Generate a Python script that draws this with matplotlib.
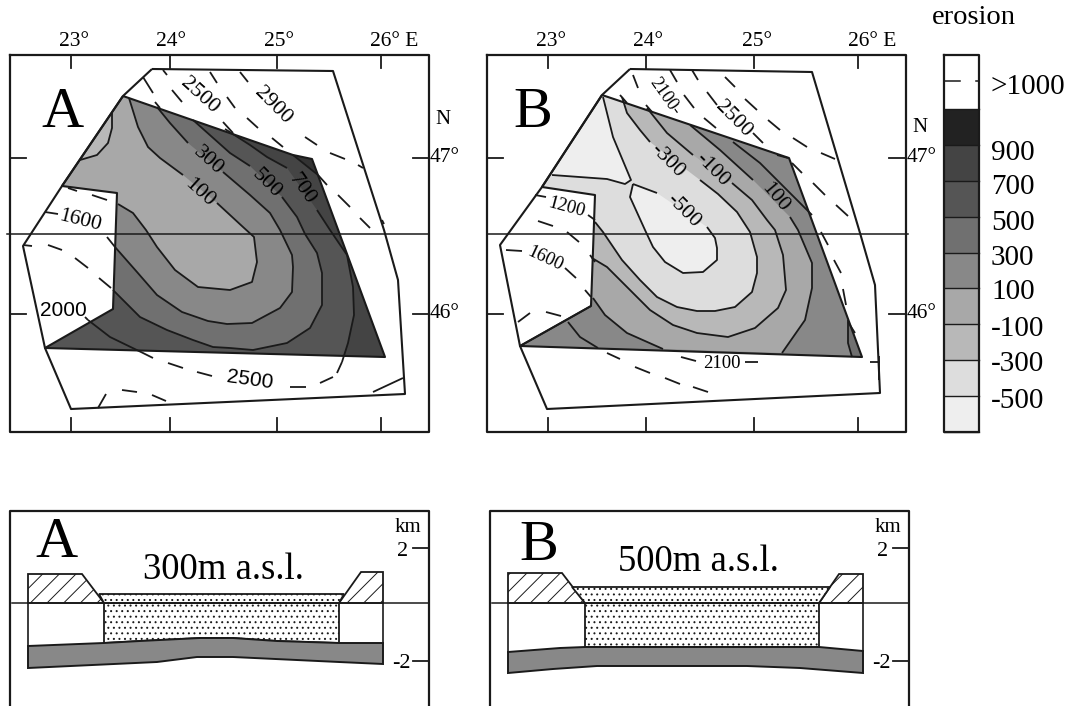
import numpy as np
import matplotlib
matplotlib.use("Agg")
import matplotlib.pyplot as plt
from matplotlib.patches import Polygon

plt.rcParams['font.family'] = ['Liberation Serif', 'DejaVu Sans']
plt.rcParams['hatch.linewidth'] = 0.7

# everything in image pixels, NA breaks a line
NA = (np.nan, np.nan)
INK = '#1a1a1a'

# erosion key, top to bottom
KEY_EDGES = [55, 109, 145, 181, 217, 253, 288, 324, 360, 396, 432]
KEY_GREYS = ['#ffffff', '#222222', '#444444', '#555555', '#707070',
             '#888888', '#a8a8a8', '#b8b8b8', '#dddddd', '#eeeeee']
KEY_LABELS = ['>1000', '900', '700', '500', '300', '100', '-100', '-300', '-500']
KEY_LABEL_Y = [87, 153, 187, 223, 258, 292, 329, 364, 401]

# ---- map A
A_OUTER = [(152, 69), (333, 71), (384, 230), (398, 280), (405, 394), (71, 409),
           (45, 348), (23, 246), (62, 186), (123, 96)]
A_SHADE = [(123, 96), (293, 155), (312, 159), (385, 357), (45, 348), (113, 309),
           (117, 193), (62, 186)]
A_100 = [(129, 98), (138, 127), (148, 147), (160, 158), (183, 175), NA, (217, 203),
         (243, 227), (254, 237), (257, 262), (252, 282), (230, 290), (198, 287),
         (175, 270), (157, 247), (146, 230), (133, 213), (118, 204)]
A_300 = [(157, 107), (170, 123), (188, 143), NA, (223, 172), (250, 195), (270, 213),
         (280, 230), (292, 255), (293, 267), (292, 292), (280, 308), (252, 323),
         (227, 324), (208, 321), (182, 312), (157, 295), (137, 272), (115, 247)]
A_500 = [(193, 120), (230, 153), (250, 166), NA, (282, 197), (297, 217), (305, 234),
         (317, 253), (322, 273), (322, 305), (310, 328), (287, 343), (253, 350),
         (230, 348), (213, 347), (193, 340), (167, 330), (140, 317), (125, 302), (113, 290)]
A_700 = [(225, 129), (250, 145), (267, 157), (287, 168), NA, (317, 210), (330, 230),
         (347, 255), (353, 287), (354, 315), (348, 343), (342, 362)]
A_900 = [(293, 155), (318, 175)]
A_LOBE = [(112, 112), (112, 128), (108, 143), (97, 155), (80, 160)]
A_WEDGE = [(88, 320), (110, 337), (143, 353), (153, 358)]
A_DASHES = [(143, 77), (153, 93), NA, (155, 102), (160, 108), NA, (163, 70), (167, 75), NA,
            (172, 90), (182, 102), NA, (210, 72), (217, 83), NA, (227, 97), (235, 108), NA,
            (223, 122), (233, 133), NA, (247, 118), (258, 128), NA, (272, 138), (283, 147), NA,
            (318, 175), (327, 185), NA, (338, 195), (350, 207), NA, (360, 218), (370, 228), NA,
            (240, 72), (248, 82), NA, (305, 137), (317, 145), NA, (330, 153), (345, 159), NA,
            (358, 165), (363, 168), NA, (382, 220), (384, 224), NA,
            (68, 188), (77, 191), NA, (92, 195), (107, 200), NA, (45, 212), (58, 214), NA,
            (107, 237), (115, 247), NA, (23, 245), (32, 246), NA, (48, 245), (62, 250), NA,
            (75, 258), (88, 268), NA, (99, 278), (111, 288), NA, (85, 317), (88, 320), NA,
            (168, 363), (183, 368), NA, (197, 372), (212, 376), NA, (290, 387), (306, 387), NA,
            (320, 383), (333, 377), NA, (337, 373), (342, 362), NA, (98, 408), (106, 394), NA,
            (122, 390), (137, 392), NA, (152, 395), (166, 401), NA, (373, 392), (403, 378)]
A_LABELS = [('2500', 200, 96, -42, 16), ('2900', 273, 106, -45, 16), ('300', 208, 161, -42, 16),
            ('100', 200, 193, -42, 16), ('500', 267, 184, -45, 16), ('700', 302, 189, -55, 16),
            ('1600', 80, 221, -14, 15.5)]
A_SANS_LABELS = [('2000', 63, 310, 0, 15), ('2500', 250, 380, -8, 15)]

# ---- map B
B_OUTER = [(630, 69), (812, 72), (860, 233), (875, 285), (880, 393), (547, 409),
           (520, 346), (500, 245), (542, 187), (602, 95)]
B_SHADE = [(602, 95), (789, 158), (862, 357), (520, 346), (591, 306), (595, 195), (542, 187)]
B_100 = [(690, 125), (720, 150), (753, 180), NA, (790, 217), (798, 230), (812, 263),
         (812, 288), (805, 320), (782, 353), NA, (663, 349), (627, 333), (605, 315), (593, 298)]
B_M100 = [(647, 108), (667, 133), (693, 155), NA, (732, 183), (752, 200), (767, 220), (775, 230),
          (783, 255), (786, 290), (778, 308), (755, 328), (728, 337), (697, 333), (673, 325),
          (650, 310), (630, 290), (607, 267), (592, 258)]
B_M300 = [(622, 97), (627, 113), (640, 130), (650, 142), NA, (700, 180), (718, 194), (737, 212),
          (750, 232), (757, 257), (757, 273), (752, 292), (735, 307), (715, 311), (697, 311),
          (677, 307), (657, 297), (640, 280), (622, 260), (603, 232), (595, 222)]
B_M500 = [(633, 184), (657, 193), NA, (707, 227), (715, 238), (717, 248), (717, 260), (703, 272),
          (683, 273), (665, 262), (653, 247), (645, 230), (630, 197), (633, 184)]
B_LOBE = [(603, 97), (613, 137), (631, 180), (625, 184), (607, 179), (552, 175)]
B_CORNER = [(848, 320), (848, 343), (852, 357)]
B_NE_LINE = [(733, 142), (760, 163), (780, 183), (812, 215)]
B_WEDGE = [(568, 322), (580, 337), (598, 348)]
B_DASHES = [(633, 75), (638, 88), NA, (620, 95), (627, 103), NA, (646, 105), (652, 112), NA,
            (670, 70), (677, 82), NA, (684, 95), (694, 108), NA, (692, 70), (698, 80), NA,
            (707, 92), (717, 105), NA, (725, 77), (735, 87), NA, (745, 99), (757, 110), NA,
            (768, 120), (780, 130), NA, (793, 138), (807, 147), NA, (821, 153), (835, 159), NA,
            (704, 118), (716, 128), NA, (753, 133), (763, 143), NA, (777, 155), (788, 158), NA,
            (792, 163), (802, 173), NA, (813, 183), (825, 195), NA, (836, 205), (848, 216), NA,
            (821, 232), (828, 245), NA, (834, 260), (841, 273), NA, (843, 289), (846, 305), NA,
            (848, 322), (855, 333), NA, (870, 362), (880, 362), NA, (879, 356), (879, 380), NA,
            (745, 362), (758, 362), NA, (681, 357), (696, 361), NA, (607, 353), (620, 359), NA,
            (635, 367), (650, 373), NA, (665, 378), (680, 384), NA, (693, 387), (708, 392), NA,
            (535, 195), (546, 197), NA, (588, 215), (595, 220), NA, (538, 221), (553, 226), NA,
            (567, 232), (579, 242), NA, (506, 250), (522, 251), NA, (565, 268), (576, 278), NA,
            (585, 290), (591, 297), NA, (590, 255), (595, 262), NA, (518, 322), (530, 313), NA,
            (546, 312), (561, 316), NA, (520, 346), (591, 306)]
B_LABELS = [('2100-', 665, 97, -55, 13), ('2500', 733, 119, -45, 15.5), ('-300', 667, 161, -45, 15.5),
            ('-100', 712, 170, -45, 15.5), ('100', 775, 198, -50, 15.5), ('-500', 683, 211, -45, 15.5),
            ('1200', 567, 208, -15, 13.5), ('1600', 545, 259, -25, 13.5), ('2100', 722, 364, 0, 13.5)]

# degrees along the map frames
A_LON_X = [71, 170, 277, 381]
B_LON_X = [548, 646, 754, 858]
LAT_Y = [158, 314]
A_LON_TEXT = [('23°', 74), ('24°', 171), ('25°', 279), ('26° E', 394)]
B_LON_TEXT = [('23°', 551), ('24°', 648), ('25°', 757), ('26° E', 872)]

# ---- sections below the maps
A_HATCH_L = [(28, 574), (82, 574), (104, 603), (28, 603)]
A_HATCH_R = [(361, 572), (383, 572), (383, 603), (339, 603)]
A_FILL_TOP = [(99, 594), (344, 594), (339, 603), (104, 603)]
A_FILL_LOW = [(104, 603), (339, 603), (339, 643), (277, 641), (233, 638), (200, 638), (140, 641), (104, 643)]
A_BAND = [(28, 646), (104, 643), (140, 641), (200, 638), (233, 638), (277, 641), (339, 643), (383, 643),
          (383, 664), (339, 662), (233, 657), (197, 657), (157, 662), (28, 668)]
B_HATCH_L = [(508, 573), (562, 573), (585, 603), (508, 603)]
B_HATCH_R = [(839, 574), (863, 574), (863, 603), (819, 603)]
B_FILL_TOP = [(572, 587), (830, 587), (819, 603), (585, 603)]
B_FILL_LOW = [(585, 603), (819, 603), (819, 647), (585, 647)]
B_BAND = [(508, 652), (560, 648), (585, 647), (819, 647), (863, 651),
          (863, 673), (800, 668), (747, 666), (597, 666), (553, 669), (508, 673)]


def xy(points):
    return np.array(points, dtype=float)


def solid(points):
    # same points without the label gaps, for the fills
    arr = xy(points)
    return arr[~np.isnan(arr[:, 0])]


def draw_line(ax, points, lw=1.3, color=INK):
    arr = xy(points)
    ax.plot(arr[:, 0], arr[:, 1], color=color, lw=lw, solid_capstyle='butt')


def band(ax, points, closing, grey, clip):
    poly = Polygon(np.vstack([solid(points), xy(closing)]), closed=True, fc=grey, ec='none')
    ax.add_patch(poly)
    poly.set_clip_path(clip)


def frame(ax, x0, x1, y0, y1, lw=1.6):
    ax.plot([x0, x1, x1, x0, x0], [y0, y0, y1, y1, y0], color=INK, lw=lw)


fig = plt.figure(figsize=(10.65, 7.06), dpi=100)
ax = fig.add_axes([0, 0, 1, 1])
ax.set_xlim(0, 1065)
ax.set_ylim(706, 0)
ax.axis('off')

# map A
frame(ax, 9.5, 429, 55, 432)
shade = Polygon(xy(A_SHADE), closed=True, fc=KEY_GREYS[2], ec='none')
ax.add_patch(shade)
band(ax, A_700, [(343, 372), (30, 372), (30, 60), (225, 60)], KEY_GREYS[3], shade)
band(ax, A_500, [(100, 292), (30, 292), (30, 60), (193, 60)], KEY_GREYS[4], shade)
band(ax, A_300, [(100, 249), (30, 249), (30, 60), (157, 60)], KEY_GREYS[5], shade)
band(ax, A_100, [(100, 206), (30, 206), (30, 60), (129, 60)], KEY_GREYS[6], shade)
band(ax, A_LOBE, [(60, 165), (60, 90), (112, 90)], KEY_GREYS[7], shade)
band(ax, A_900, [(330, 170), (330, 130), (280, 130)], '#333333', shade)
for contour in [A_100, A_300, A_500, A_700, A_900, A_LOBE, A_WEDGE]:
    draw_line(ax, contour)
draw_line(ax, A_DASHES)
draw_line(ax, A_SHADE + A_SHADE[:1], lw=1.5)
draw_line(ax, A_OUTER + A_OUTER[:1], lw=1.5)
ax.plot([7, 429], [234, 234], color=INK, lw=1.1)

# map B
frame(ax, 487, 906, 55, 432)
shade_b = Polygon(xy(B_SHADE), closed=True, fc=KEY_GREYS[5], ec='none')
ax.add_patch(shade_b)
band(ax, B_100, [(570, 300), (510, 300), (510, 60), (690, 60)], KEY_GREYS[6], shade_b)
band(ax, B_M100, [(570, 260), (510, 260), (510, 60), (647, 60)], KEY_GREYS[7], shade_b)
band(ax, B_M300, [(570, 224), (510, 224), (510, 60), (622, 60)], KEY_GREYS[8], shade_b)
band(ax, B_M500, [(633, 184)], KEY_GREYS[9], shade_b)
band(ax, B_LOBE, [(530, 170), (590, 70)], KEY_GREYS[9], shade_b)
band(ax, B_CORNER, [(880, 370), (880, 320)], KEY_GREYS[4], shade_b)
for contour in [B_100, B_M100, B_M300, B_M500, B_LOBE, B_CORNER, B_NE_LINE, B_WEDGE]:
    draw_line(ax, contour)
draw_line(ax, B_DASHES)
draw_line(ax, B_SHADE + B_SHADE[:1], lw=1.5)
draw_line(ax, B_OUTER + B_OUTER[:1], lw=1.5)
ax.plot([487, 908], [234, 234], color=INK, lw=1.1)

# graticule ticks and their labels
for lon_x, lat_in, lon_text, right_x, right_text_x, n_xy in [
        (A_LON_X, 26, A_LON_TEXT, (413, 429), 445, (443, 119)),
        (B_LON_X, 503, B_LON_TEXT, (889, 906), 922, (920, 128))]:
    left = 9.5 if lat_in == 26 else 487
    for x in lon_x:
        ax.plot([x, x], [55, 68], color=INK, lw=1.3)
        ax.plot([x, x], [418, 432], color=INK, lw=1.3)
    for y, name in zip(LAT_Y, ['47°', '46°']):
        ax.plot([left, lat_in], [y, y], color=INK, lw=1.3)
        ax.plot(right_x, [y, y], color=INK, lw=1.3)
        ax.text(right_text_x, y, name, ha='center', va='center', fontsize=15.5)
    for name, x in lon_text:
        ax.text(x, 42, name, ha='center', va='center', fontsize=15.5)
    ax.text(n_xy[0], n_xy[1], 'N', ha='center', va='center', fontsize=15)

ax.text(62, 113, 'A', ha='center', va='center', fontsize=42)
ax.text(533, 113, 'B', ha='center', va='center', fontsize=42)

for name, x, y, rot, size in A_LABELS + B_LABELS:
    ax.text(x, y, name, rotation=rot, rotation_mode='anchor', ha='center', va='center', fontsize=size)
for name, x, y, rot, size in A_SANS_LABELS:
    ax.text(x, y, name, rotation=rot, rotation_mode='anchor', ha='center', va='center',
            fontsize=size, family='Liberation Sans')

# key
for grey, top, bottom in zip(KEY_GREYS, KEY_EDGES[:-1], KEY_EDGES[1:]):
    ax.fill_between([944, 979], top, bottom, color=grey, lw=0)
    ax.plot([944, 979], [bottom, bottom], color=INK, lw=1.0)
frame(ax, 944, 979, 55, 432)
ax.plot([945, 960], [81, 81], color=INK, lw=1.1)
ax.plot([976, 979], [81, 81], color=INK, lw=1.1)
for name, y in zip(KEY_LABELS, KEY_LABEL_Y):
    ax.text(991, y, name, ha='left', va='center', fontsize=21)
ax.text(932, 18, 'erosion', ha='left', va='center', fontsize=20.5)

# sections
for x0, x1, base_x0, hatch_l, hatch_r, fill_top, fill_low, bandp, letter, title, tick_text in [
        (9.5, 429, 12, A_HATCH_L, A_HATCH_R, A_FILL_TOP, A_FILL_LOW, A_BAND,
         ('A', 56, 543), ('300m a.s.l.', 223, 570), (413, 403, 401, 408)),
        (489.5, 909, 492, B_HATCH_L, B_HATCH_R, B_FILL_TOP, B_FILL_LOW, B_BAND,
         ('B', 539, 546), ('500m a.s.l.', 698, 562), (893, 883, 881, 888))]:
    ax.plot([x0, x0, x1, x1], [706, 511, 511, 706], color=INK, lw=1.6)
    for poly in [hatch_l, hatch_r]:
        ax.add_patch(Polygon(xy(poly), closed=True, fc='white', ec=INK, hatch='//', lw=1.3))
    for poly in [fill_low, fill_top]:
        ax.add_patch(Polygon(xy(poly), closed=True, fc='white', ec=INK, hatch='...', lw=1.3))
    ax.add_patch(Polygon(xy(bandp), closed=True, fc='#888888', ec=INK, lw=1.4))
    # white sides between the base line and the grey layer
    ax.plot([hatch_l[0][0]] * 2, [603, bandp[0][1]], color=INK, lw=1.2)
    ax.plot([hatch_r[1][0]] * 2, [603, bandp[7 if letter[0] == 'A' else 4][1]], color=INK, lw=1.2)
    ax.plot([base_x0, x1], [603, 603], color=INK, lw=1.1)
    for y in [548, 661]:
        ax.plot([tick_text[0], x1], [y, y], color=INK, lw=1.3)
    ax.text(tick_text[1], 551, '2', ha='center', va='center', fontsize=16)
    ax.text(tick_text[2], 663, '-2', ha='center', va='center', fontsize=16)
    ax.text(tick_text[3], 527, 'km', ha='center', va='center', fontsize=15)
    ax.text(letter[1], letter[2], letter[0], ha='center', va='center', fontsize=42)
    ax.text(title[1], title[2], title[0], ha='center', va='center', fontsize=26.5)

fig.savefig('out.png', dpi=100)
